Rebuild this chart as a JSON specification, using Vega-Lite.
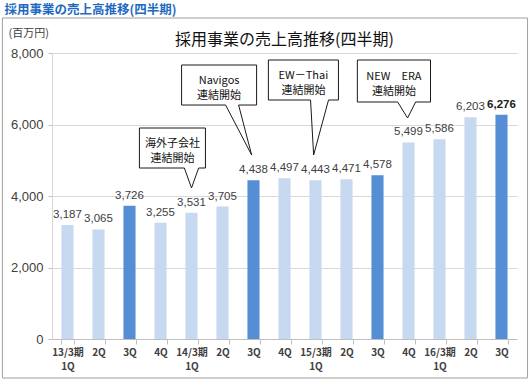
{
  "$schema": "https://vega.github.io/schema/vega-lite/v6.json",
  "width": 465,
  "height": 286,
  "autosize": {"type": "none"},
  "padding": {"left": 52, "top": 53, "right": 13, "bottom": 42},
  "background": "white",
  "config": {"view": {"stroke": null}, "font": "Noto Sans CJK JP"},
  "encoding": {
    "y": {
      "field": "y",
      "type": "quantitative",
      "scale": {"domain": [0, 8000], "nice": false, "zero": false},
      "axis": {
        "title": "(百万円)",
        "titleAngle": 0,
        "titleAlign": "left",
        "titleBaseline": "middle",
        "titleX": -44,
        "titleY": -20,
        "titleFontSize": 11,
        "titleFontWeight": "normal",
        "titleFont": "Noto Sans CJK JP",
        "titleColor": "#404040",
        "values": [0, 2000, 4000, 6000, 8000],
        "labelExpr": "format(datum.value, ',')",
        "labelFont": "Liberation Sans",
        "labelFontSize": 13,
        "labelColor": "#404040",
        "labelPadding": 5,
        "tickSize": 4,
        "tickColor": "#bfbfbf",
        "domainColor": "#d9d9d9",
        "gridColor": "#d9d9d9"
      }
    }
  },
  "resolve": {"scale": {"x": "independent"}},
  "layer": [
    {
      "data": {
        "values": [
          {"q": "13/3期|1Q", "y": 3187, "t": "a", "b": 0},
          {"q": "13/3期|2Q", "y": 3065, "t": "a", "b": 0},
          {"q": "13/3期|3Q", "y": 3726, "t": "b", "b": 0},
          {"q": "13/3期|4Q", "y": 3255, "t": "a", "b": 0},
          {"q": "14/3期|1Q", "y": 3531, "t": "a", "b": 0},
          {"q": "14/3期|2Q", "y": 3705, "t": "a", "b": 0},
          {"q": "14/3期|3Q", "y": 4438, "t": "b", "b": 0},
          {"q": "14/3期|4Q", "y": 4497, "t": "a", "b": 0},
          {"q": "15/3期|1Q", "y": 4443, "t": "a", "b": 0},
          {"q": "15/3期|2Q", "y": 4471, "t": "a", "b": 0},
          {"q": "15/3期|3Q", "y": 4578, "t": "b", "b": 0},
          {"q": "15/3期|4Q", "y": 5499, "t": "a", "b": 0},
          {"q": "16/3期|1Q", "y": 5586, "t": "a", "b": 0},
          {"q": "16/3期|2Q", "y": 6203, "t": "a", "b": 0},
          {"q": "16/3期|3Q", "y": 6276, "t": "b", "b": 1}
        ]
      },
      "encoding": {
        "x": {
          "field": "q",
          "type": "nominal",
          "sort": null,
          "scale": {"paddingInner": 0.61, "paddingOuter": 0.305},
          "axis": {
            "title": null,
            "labelExpr": "split(datum.value, '|')[1] == '1Q' ? split(datum.value, '|') : split(datum.value, '|')[1]",
            "labelAngle": 0,
            "labelFont": "Noto Sans CJK JP",
            "labelFontSize": 10,
            "labelFontWeight": "bold",
            "labelColor": "#404040",
            "labelLineHeight": 14,
            "labelPadding": 3,
            "tickBand": "extent",
            "tickSize": 5,
            "tickColor": "#bfbfbf",
            "domainColor": "#bfbfbf",
            "grid": false
          }
        }
      },
      "layer": [
        {
          "mark": {"type": "bar"},
          "encoding": {
            "color": {
              "field": "t",
              "type": "nominal",
              "scale": {"domain": ["a", "b"], "range": ["#c6d9f1", "#558ed5"]},
              "legend": null
            }
          }
        },
        {
          "transform": [{"filter": "datum.b == 0"}],
          "mark": {"type": "text", "dy": -7, "baseline": "alphabetic", "font": "Liberation Sans", "fontSize": 11.5, "color": "#404040"},
          "encoding": {"text": {"field": "y", "type": "quantitative", "format": ","}}
        },
        {
          "transform": [{"filter": "datum.b == 1"}],
          "mark": {"type": "text", "dy": -7, "baseline": "alphabetic", "font": "Liberation Sans", "fontSize": 11.5, "fontWeight": "bold", "color": "#202020"},
          "encoding": {"text": {"field": "y", "type": "quantitative", "format": ","}}
        }
      ]
    },
    {
      "encoding": {
        "x": {
          "field": "x",
          "type": "quantitative",
          "scale": {"domain": [0, 15], "nice": false, "zero": false},
          "axis": null
        }
      },
      "layer": [
        {
          "data": {"values": [{"x": -1.6, "x2": 15.34, "y": -1091, "y2": 8979}]},
          "mark": {"type": "rect", "fill": null, "fillOpacity": 0, "stroke": "#a0a0a0", "strokeWidth": 1},
          "encoding": {"x2": {"field": "x2"}, "y2": {"field": "y2"}}
        },
        {
          "data": {
            "values": [
              {"x": 2.82, "x2": 4.95, "y": 4783, "y2": 5902},
              {"x": 4.18, "x2": 6.6, "y": 6545, "y2": 7664},
              {"x": 6.98, "x2": 9.24, "y": 6685, "y2": 7804},
              {"x": 9.85, "x2": 12.21, "y": 6629, "y2": 7804}
            ]
          },
          "mark": {"type": "rect", "fill": "white", "stroke": "#1a1a1a", "strokeWidth": 1},
          "encoding": {"x2": {"field": "x2"}, "y2": {"field": "y2"}}
        },
        {
          "data": {
            "values": [
              {"x": 4.27, "x2": 4.73, "y": 4783},
              {"x": 5.6, "x2": 6.02, "y": 6545},
              {"x": 8.34, "x2": 8.92, "y": 6685},
              {"x": 11.15, "x2": 11.73, "y": 6629}
            ]
          },
          "mark": {"type": "rule", "stroke": "white", "strokeWidth": 2},
          "encoding": {"x2": {"field": "x2"}}
        },
        {
          "data": {
            "values": [
              {"id": 1, "o": 1, "x": 4.27, "y": 4783},
              {"id": 1, "o": 2, "x": 4.5, "y": 4224},
              {"id": 1, "o": 3, "x": 4.73, "y": 4783},
              {"id": 2, "o": 1, "x": 5.6, "y": 6545},
              {"id": 2, "o": 2, "x": 6.44, "y": 5147},
              {"id": 2, "o": 3, "x": 6.02, "y": 6545},
              {"id": 3, "o": 1, "x": 8.34, "y": 6685},
              {"id": 3, "o": 2, "x": 8.44, "y": 5147},
              {"id": 3, "o": 3, "x": 8.92, "y": 6685},
              {"id": 4, "o": 1, "x": 11.15, "y": 6629},
              {"id": 4, "o": 2, "x": 11.47, "y": 6182},
              {"id": 4, "o": 3, "x": 11.73, "y": 6629}
            ]
          },
          "mark": {"type": "line", "stroke": "#1a1a1a", "strokeWidth": 1},
          "encoding": {
            "detail": {"field": "id", "type": "nominal"},
            "order": {"field": "o", "type": "quantitative"}
          }
        },
        {
          "data": {
            "values": [
              {"x": 3.89, "y": 5455, "label": "海外子会社\n連結開始"},
              {"x": 5.39, "y": 7217, "label": "Navigos\n連結開始"},
              {"x": 8.11, "y": 7357, "label": "EW－Thai\n連結開始"},
              {"x": 11.03, "y": 7329, "label": "NEW　ERA\n連結開始"}
            ]
          },
          "mark": {"type": "text", "font": "Noto Sans CJK JP", "fontSize": 11, "color": "#111111", "lineBreak": "\n", "lineHeight": 15, "baseline": "middle", "align": "center"},
          "encoding": {"text": {"field": "label"}}
        },
        {
          "data": {"values": [{"x": 7.5, "y": 8364, "label": "採用事業の売上高推移(四半期)"}]},
          "mark": {"type": "text", "font": "Noto Sans CJK JP", "fontSize": 16, "color": "#111111", "baseline": "middle", "align": "center"},
          "encoding": {"text": {"field": "label"}}
        },
        {
          "data": {"values": [{"x": -1.53, "y": 9194, "label": "採用事業の売上高推移(四半期)"}]},
          "mark": {"type": "text", "font": "Noto Sans CJK JP", "fontSize": 12.5, "fontWeight": "bold", "color": "#1f6bbf", "baseline": "middle", "align": "left"},
          "encoding": {"text": {"field": "label"}}
        }
      ]
    }
  ]
}
